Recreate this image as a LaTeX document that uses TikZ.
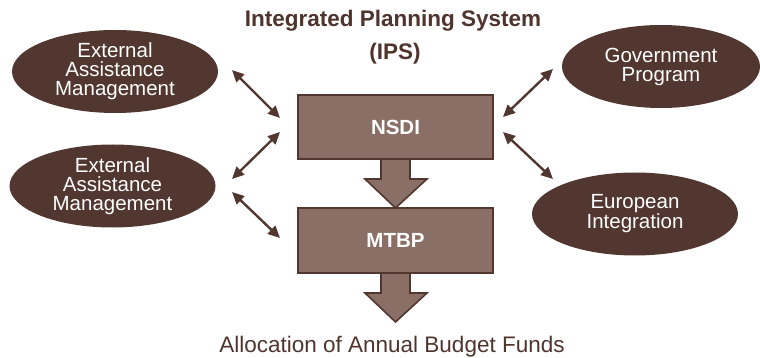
\documentclass[tikz,border=0pt]{standalone}
\usepackage{fontspec}
\setmainfont{Liberation Sans}
\usetikzlibrary{arrows.meta,shapes.geometric}
\definecolor{dbrown}{HTML}{523630}
\definecolor{mbrown}{HTML}{8A6F67}
\definecolor{tbrown}{HTML}{4F342E}
\tikzset{
  oval/.style={ellipse, fill=dbrown, text=white, minimum width=206pt, minimum height=83pt, inner sep=0pt, align=center, font=\fontsize{20.5}{19}\selectfont},
  stagebox/.style={rectangle, draw=dbrown, fill=mbrown, line width=2pt, minimum width=195pt, minimum height=64pt, inner sep=0pt, text=white, font=\fontsize{20.5}{22}\selectfont\bfseries},
  titletext/.style={text=tbrown, font=\fontsize{22.5}{24}\selectfont\bfseries, anchor=base, inner sep=0pt},
  blockarrow/.style={draw=dbrown, fill=mbrown, line width=1.6pt, line join=miter},
  link/.style={draw=dbrown, line width=2.4pt, {Triangle[length=12pt,width=11pt]}-{Triangle[length=12pt,width=11pt]}}
}
\begin{document}
\begin{tikzpicture}[x=1pt,y=-1pt]
\useasboundingbox (0,0) rectangle (760,358);
% title
\node[titletext] (title) at (393,27) {Integrated Planning System};
\node[titletext] (ips) at (395,60) {(IPS)};
% block arrows (behind boxes)
\coordinate (b1) at (395.5,159);
\coordinate (b2) at (395.5,273);
\draw[blockarrow] ([xshift=-14.5pt]b1) -- ++(0,20) -- ++(-16,0) -- (395.5,208) -- (427,179) -- (410,179) -- ([xshift=14.5pt]b1);
\draw[blockarrow] ([xshift=-14.5pt]b2) -- ++(0,20) -- ++(-16,0) -- (395.5,322) -- (427,293) -- (410,293) -- ([xshift=14.5pt]b2);
% boxes
\node[stagebox] (nsdi) at (395.5,127) {\raisebox{-1.5pt}{NSDI}};
\node[stagebox] (mtbp) at (395.5,240.5) {\raisebox{-1.5pt}{MTBP}};
% output text
\node[text=tbrown, font=\fontsize{22.5}{24}\selectfont, anchor=base, inner sep=0pt] (alloc) at (392,352) {Allocation of Annual Budget Funds};
% ellipses
\node[oval] (ea1) at (115,71.5) {External\\Assistance\\Management};
\node[oval] (ea2) at (112.5,186) {External\\Assistance\\Management};
\node[oval, minimum width=198pt] (gov) at (661,66.5) {Government\\Program};
\node[oval] (eu) at (635,214) {European\\Integration};
% connector ends
\coordinate (a1s) at (232,70);  \coordinate (a1e) at (280,118);
\coordinate (a2s) at (280,132); \coordinate (a2e) at (232,179);
\coordinate (a3s) at (232,192); \coordinate (a3e) at (280,238);
\coordinate (a4s) at (553,69);  \coordinate (a4e) at (503,117);
\coordinate (a5s) at (503,132); \coordinate (a5e) at (553,179);
\draw[link] (a1s) -- (a1e);
\draw[link] (a2s) -- (a2e);
\draw[link] (a3s) -- (a3e);
\draw[link] (a4s) -- (a4e);
\draw[link] (a5s) -- (a5e);
\end{tikzpicture}
\end{document}
